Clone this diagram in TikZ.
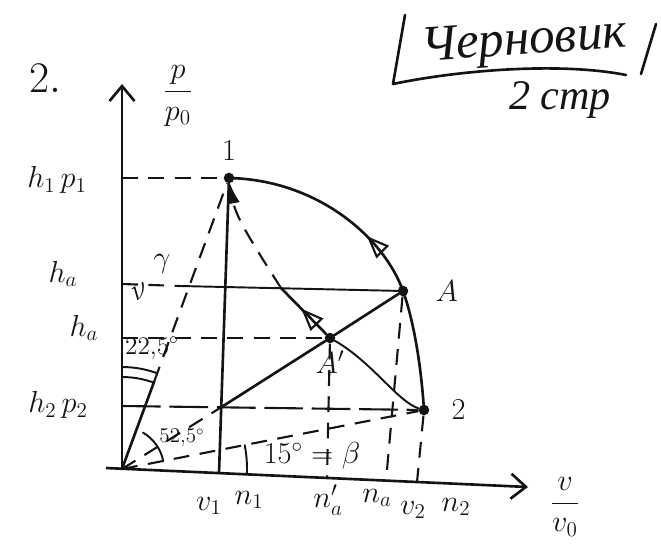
\documentclass[tikz,border=0pt]{standalone}
\usepackage{amsmath,amssymb}
\usepackage{fontspec}
\newfontfamily\cyrfont{Liberation Serif}
\usepackage{tikz}
\usetikzlibrary{arrows.meta,positioning,calc,decorations.markings}
\usepackage{xcolor}
\definecolor{cink}{HTML}{141414}

\begin{document}
\begin{tikzpicture}[
  x=0.02cm, y=-0.02cm,
  font=\LARGE,
  ink/.style={draw=cink, line width=1.5pt, line cap=round},
  fine/.style={draw=cink, line width=1.1pt, line cap=round},
  guide/.style={draw=cink, line width=1.2pt, dash pattern=on 9pt off 6pt},
  sketch/.style={draw=cink, line width=1.2pt, dash pattern=on 22pt off 5pt},
  axis/.style={draw=cink, line width=1.5pt, -{Straight Barb[length=3mm,width=5mm,line width=1.5pt]}},
  pt/.style={circle, fill=cink, inner sep=0pt, minimum size=6pt},
  lab/.style={inner sep=1pt, text=cink},
  flag/.style={postaction={decorate}, decoration={markings,
      mark=at position #1 with {\arrow{Triangle[open, length=4.5mm, width=3.5mm, line width=1.2pt]}}}},
]
\useasboundingbox (0,0) rectangle (661,550);
% ---------- axes ----------
\coordinate (O) at (122,469);
\coordinate (ytop) at (122,84);
\coordinate (xbeg) at (106,468);
\coordinate (xend) at (528,487);
\draw[axis] (O) -- (ytop);
\draw[axis] (xbeg) -- (xend);
\node[lab] (ylab) at (178,96) {$\dfrac{p}{p_0}$};
\node[lab] (xlab) at (565,507) {$\dfrac{v}{v_0}$};
\node[lab, font=\Huge] (num) at (45,78) {$2.$};
% ---------- states ----------
\node[pt] (P1) at (229,178) {};
\node[pt] (PA) at (403,291) {};
\node[pt] (PAp) at (330,338) {};
\node[pt] (P2) at (424,410) {};
\coordinate (B) at (220,408);
\node[lab, above=2mm of P1] (l1) {$1$};
\node[lab, right=5mm of PA] (lA) {$A$};
\node[lab, below=1mm of PAp] (lAp) {$A'$};
\node[lab, right=4mm of P2] (l2) {$2$};
% ---------- levels on the p axis ----------
\coordinate (H1) at (122,178);
\coordinate (HA) at (122,284);
\coordinate (HAm) at (180,286);
\coordinate (HAp) at (122,338);
\coordinate (H2) at (122,406);
\node[lab] (lh1) at (57,180) {$h_1\,p_1$};
\node[lab] (lha) at (63,274) {$h_a$};
\node[lab] (lhb) at (84,328) {$h_a$};
\node[lab] (lh2) at (58,405) {$h_2\,p_2$};
\draw[guide] (H1) -- (P1);
\draw[guide] (HA) -- (HAm);
\draw[fine] (HAm) -- (PA);
\draw[guide] (HAp) -- (PAp);
\draw[sketch] (H2) -- (P2);
% ---------- feet on the v axis ----------
\coordinate (F1) at (219,473);
\coordinate (FAp) at (327,478);
\coordinate (FA) at (386,481);
\coordinate (F2) at (417,482);
\draw[ink] (F1) -- (P1);
\draw[guide] (PAp) -- (FAp);
\draw[guide] (PA) -- (FA);
\draw[guide] (P2) -- (F2);
\node[lab] (lv1) at (209,506) {$v_1$};
\node[lab] (ln1) at (249,500) {$n_1$};
\node[lab] (lna1) at (328,500) {$n_a'$};
\node[lab] (lna) at (377,498) {$n_a$};
\node[lab] (lv2) at (413,510) {$v_2$};
\node[lab] (ln2) at (456,507) {$n_2$};
% ---------- rays from the origin ----------
\coordinate (G1) at ($(O)!0.3!(P1)$);
\draw[ink] (O) -- (G1);
\draw[guide] (G1) -- (P1);
\draw[guide] (O) -- (B);
\draw[ink] (B) -- (PAp);
\draw[ink] (PAp) -- (PA);
\draw[guide] (O) -- (P2);
% angles
\draw[fine] (O) ++(-90:92) arc[start angle=-90, end angle=-70, radius=92];
\draw[fine] (O) ++(-90:102) arc[start angle=-90, end angle=-70, radius=102];
\draw[fine] (O) ++(-11:42) arc[start angle=-11, end angle=-60, radius=42];
\draw[fine] (O) ++(-11:125) arc[start angle=-11, end angle=2, radius=125];
\node[lab, font=\Large] (a1) at (152,348) {$22{,}5^\circ$};
\node[lab, font=\large] (a2) at (182,438) {$52{,}5^\circ$};
\node[lab] (a3) at (312,456) {$15^\circ=\beta$};
\node[lab] (g) at (162,264) {$\gamma$};
\node[lab, rotate=30] (nu) at (140,292) {$\nu$};
% ---------- process lines ----------
\draw[ink, flag=0.55] (P2.center) .. controls (420,350) and (410,310) .. (PA.center)
  .. controls (385,240) and (320,180) .. (P1.center);
\coordinate (G2) at (281,288);
\draw[ink, flag=0.55] (PAp) -- (G2);
\draw[guide, -{Latex[length=4mm,width=2.6mm]}] (G2) .. controls (258,252) and (236,218) .. (P1);
\draw[fine] (PAp) .. controls (372,362) and (398,402) .. (P2);
% ---------- note ----------
\coordinate (m1) at (405,15);
\coordinate (m2) at (393,84);
\coordinate (m3) at (626,75);
\coordinate (m4) at (656,24);
\coordinate (m5) at (641,74);
\draw[ink] (m1) -- (m2);
\draw[ink] (m2) .. controls (460,70) and (560,62) .. (m3);
\draw[ink] (m4) -- (m5);
\node[lab, font=\fontsize{29}{34}\selectfont\cyrfont\itshape, rotate=4] (draft) at (524,43) {Черновик};
\node[lab, font=\fontsize{24}{28}\selectfont\cyrfont\itshape] (page) at (560,100) {2 стр};
\end{tikzpicture}
\end{document}
